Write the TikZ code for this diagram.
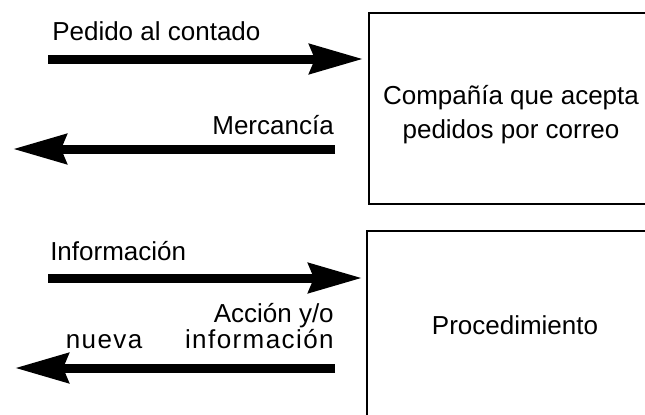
\documentclass[tikz,border=0pt]{standalone}
\usepackage{fontspec}
\setmainfont{Liberation Sans}
\usetikzlibrary{arrows.meta}
\usetikzlibrary{positioning}

\begin{document}
\begin{tikzpicture}[
    x=0.75pt, y=-0.75pt,
    lbl/.style={inner sep=0pt, font=\fontsize{19.5}{16}\selectfont},
    box/.style={draw, line width=1.5pt, inner sep=0pt, align=center,
        font=\fontsize{19.5}{25.5}\selectfont},
    flow/.style={line width=6.75pt, -{Stealth[length=40pt, width=22pt, inset=4pt]}}
]
\useasboundingbox (0,0) rectangle (645,414);
\clip (0,0) rectangle (645,414);

% --- Boxes (cut off at the right) ---
\node[box, minimum width=213pt, minimum height=143.25pt,
      text height=48.5pt, text depth=4pt] (company) at (511,108.5)
    {Compañía que acepta\\pedidos por correo};
\node[box, minimum width=222pt, minimum height=141pt] (proc) at (515,325)
    {Procedimiento};

% --- Arrow ends ---
\coordinate (a1s) at (48,59);   \coordinate (a1e) at (363,59);
\coordinate (a2s) at (335,149); \coordinate (a2e) at (13,149);
\coordinate (a3s) at (48,278);  \coordinate (a3e) at (362,278);
\coordinate (a4s) at (335,368); \coordinate (a4e) at (15,368);

% --- Upper pair ---
\draw[flow] (a1s) -- (a1e);
\draw[flow] (a2s) -- (a2e);
\node[lbl, anchor=base west] (pedido) at (52,40.7) {Pedido al contado};
\node[lbl, anchor=base east] (mercancia) at (334,134) {Mercancía};

% --- Lower pair ---
\draw[flow] (a3s) -- (a3e);
\draw[flow] (a4s) -- (a4e);
\node[lbl, anchor=base west] (info) at (50,260) {Información};
\node[lbl, anchor=base east, align=right] (accion) at (334,348)
    {Acción y/o\\{\addfontfeature{LetterSpace=5.5}nueva\hspace{32pt}información}};

\end{tikzpicture}
\end{document}
